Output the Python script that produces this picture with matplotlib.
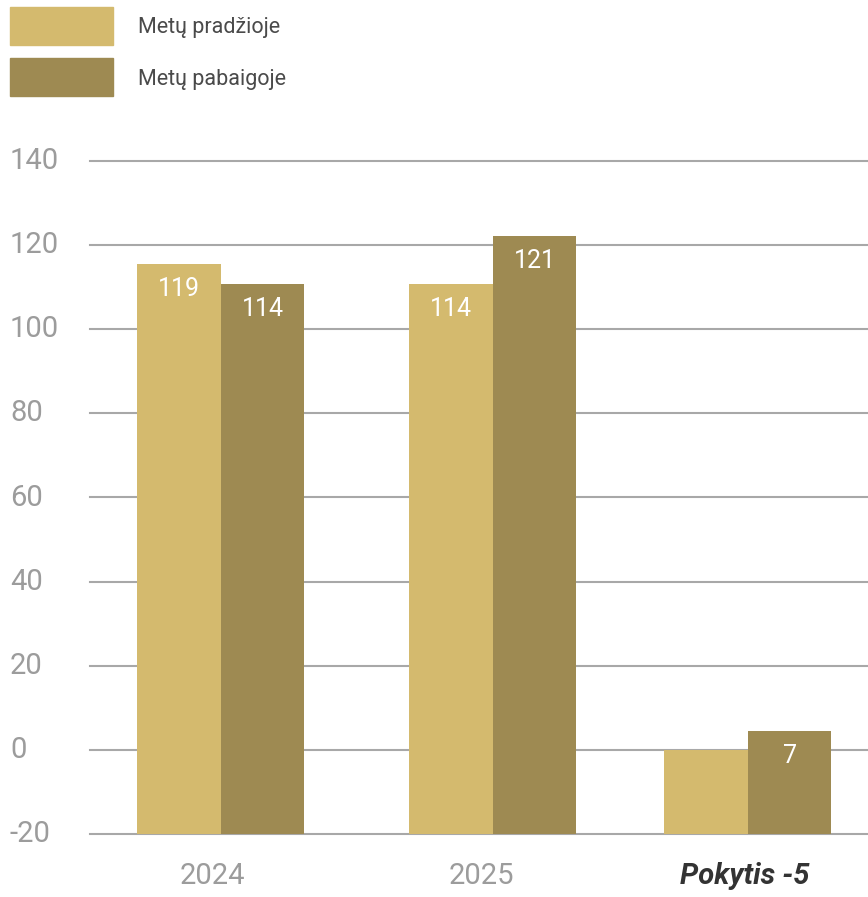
import matplotlib
matplotlib.use("Agg")
import matplotlib.pyplot as plt
from matplotlib.patches import Rectangle
import numpy as np

categories = ["2024", "2025", "Pokytis -5"]
start_values = [115.5, 110.7, 0.0]   # bar heights as drawn
end_values = [110.7, 122.1, 4.5]
start_labels = ["119", "114", ""]
end_labels = ["114", "121", "7"]
series_names = ["Metų pradžioje", "Metų pabaigoje"]
y_ticks = [-20, 0, 20, 40, 60, 80, 100, 120, 140]

FONT = ["Roboto", "DejaVu Sans"]
plt.rcParams['font.family'] = FONT

light = "#D4BA6E"
dark = "#9E8A52"
grid_c = "#A8A8A8"
tick_c = "#9C9C9C"

W, H = 868, 897
fig = plt.figure(figsize=(W / 100, H / 100), dpi=100)
ax = fig.add_axes([90 / W, 1 - 834 / H, 1 - 90 / W, (834 - 161) / H])

base = -20
x = np.array([0, 1.0, 1.9375])
bw = 0.307
ax.bar(x - bw / 2, np.array(start_values) - base, bottom=base, width=bw,
       color=light, align="center", zorder=3)
ax.bar(x + bw / 2, np.array(end_values) - base, bottom=base, width=bw,
       color=dark, align="center", zorder=3)

for xs, vals, labs in ((x - bw / 2, start_values, start_labels),
                       (x + bw / 2, end_values, end_labels)):
    for xi, v, lab in zip(xs, vals, labs):
        if lab:
            ax.annotate(lab, (xi, v), xytext=(0, -18), textcoords="offset points",
                        ha="center", va="center", color="white", fontsize=18, zorder=4)

ax.set_ylim(-20, 140)
ax.set_xlim(-0.4816, 2.3787)
for t in y_ticks:
    ax.axhline(t, color=grid_c, lw=1.5, zorder=2, clip_on=False)
ax.set_yticks([])
ax.set_xticks([])
for s in ax.spines.values():
    s.set_visible(False)

# y tick labels, left aligned at figure x=10px
for t in y_ticks:
    ax.annotate(str(t), xy=(10 / W, t), xycoords=("figure fraction", "data"),
                ha="left", va="center", color=tick_c, fontsize=21)

# x labels
offs = [-9, -12, -3]
for xi, c, o in zip(x, categories, offs):
    if c.startswith("Pokytis"):
        ax.annotate(c, (xi, -20), xytext=(o * 0.72, -30), textcoords="offset points",
                    ha="center", va="center", color="#333333", fontsize=21,
                    fontweight="bold", fontstyle="italic")
    else:
        ax.annotate(c, (xi, -20), xytext=(o * 0.72, -30), textcoords="offset points",
                    ha="center", va="center", color=tick_c, fontsize=21)

# legend
for i, (name, col) in enumerate(zip(series_names, [light, dark])):
    y0 = 7 + i * 51
    fig.patches.append(Rectangle((10 / W, 1 - (y0 + 38) / H), 103 / W, 38 / H,
                                 transform=fig.transFigure, color=col))
    fig.text(138 / W, 1 - (y0 + 21) / H, name, ha="left", va="center",
             color="#4A4A4A", fontsize=15.5)

fig.savefig("out.png", dpi=100)
